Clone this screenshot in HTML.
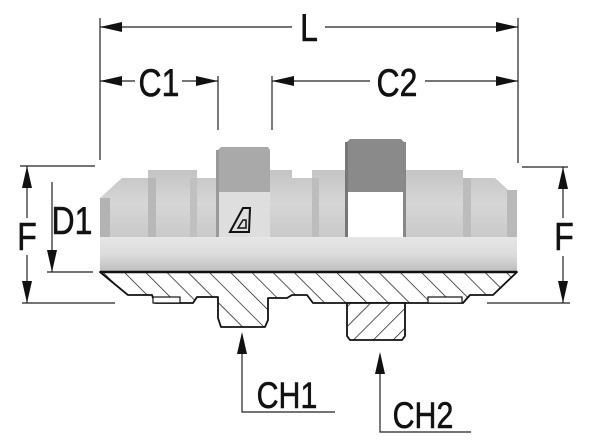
<!DOCTYPE html>
<html><head><meta charset="utf-8"><style>
html,body{margin:0;padding:0;background:#fff;}
svg{display:block;}
text{font-family:"Liberation Sans",sans-serif;fill:#111;stroke:#111;stroke-width:0.6;}
</style></head><body>
<svg width="600" height="445" viewBox="0 0 600 445" xmlns="http://www.w3.org/2000/svg">
<defs>
<linearGradient id="bt" x1="0" y1="0" x2="0" y2="1">
<stop offset="0" stop-color="#c4c4c4"/><stop offset="0.5" stop-color="#d6d6d6"/><stop offset="1" stop-color="#cacaca"/>
</linearGradient>
<linearGradient id="bl" x1="0" y1="0" x2="0" y2="1">
<stop offset="0" stop-color="#e6e6e6"/><stop offset="0.5" stop-color="#dcdcdc"/><stop offset="1" stop-color="#bdbdbd"/>
</linearGradient>
<pattern id="h1" width="15" height="15" patternUnits="userSpaceOnUse" patternTransform="rotate(-45)">
<rect width="15" height="15" fill="#fff"/><line x1="0" y1="0" x2="0" y2="15" stroke="#111" stroke-width="1.4"/>
</pattern>
<pattern id="h2" width="14" height="14" patternUnits="userSpaceOnUse" patternTransform="rotate(45)">
<rect width="14" height="14" fill="#fff"/><line x1="0" y1="0" x2="0" y2="14" stroke="#111" stroke-width="1.4"/>
</pattern>
</defs>

<path d="M218,150 L221,147 L268,147 L270,150 L270,192 L218,192Z" fill="#a9a9a9"/>
<path d="M347,142 L350,139 L401,139 L404,142 L404,192 L347,192Z" fill="#8a8a8a"/>

<path d="M100,198 L122,178 L148,178 L148,170 L197,170 L197,178 L218,178 L218,237 L100,237Z" fill="url(#bt)"/>
<path d="M270,170 L292,170 L292,178 L312,178 L312,170 L347,170 L347,237 L270,237Z" fill="url(#bt)"/>
<path d="M404,170 L463,170 L463,178 L495,178 L517,198 L517,237 L404,237Z" fill="url(#bt)"/>
<rect x="218" y="192" width="52" height="45" fill="#dedede"/>
<rect x="347" y="192" width="57" height="45" fill="#fff"/>
<rect x="100" y="198" width="10" height="39" fill="#b3b3b3"/>
<rect x="148" y="178" width="8" height="59" fill="#b8b8b8"/>
<rect x="190" y="178" width="7" height="59" fill="#c0c0c0"/>
<rect x="312" y="178" width="7" height="59" fill="#bdbdbd"/>
<rect x="463" y="178" width="8" height="59" fill="#bcbcbc"/>
<rect x="507" y="190" width="10" height="47" fill="#b9b9b9"/>
<rect x="216" y="150" width="3" height="87" fill="#999"/>
<rect x="345" y="142" width="3" height="95" fill="#777"/>
<rect x="403" y="142" width="3" height="95" fill="#888"/>
<rect x="100" y="237" width="417" height="35" fill="url(#bl)"/>
<!-- logo -->
<path d="M230,232 L243,208 L250,208 L249,232Z" fill="none" stroke="#111" stroke-width="2"/>
<path d="M238,228 L243,220 L246,220 L246,228Z" fill="none" stroke="#111" stroke-width="1.5"/>

<path d="M100,272 L517,272 L493,295 L470,295 L463,303 L313,303 L307,295 L292,295 L287,298 L268,298 L268,320 L265,327 L221,327 L218,318 L218,297 L197,297 L193,303 L155,303 L152,295 L128,295Z" fill="url(#h1)" stroke="#111" stroke-width="1.8" stroke-linejoin="round"/>
<rect x="153" y="297" width="27" height="6" fill="#fff" stroke="#111" stroke-width="1.2"/>
<rect x="428" y="297" width="34" height="6" fill="#fff" stroke="#111" stroke-width="1.2"/>
<path d="M347,303 L405,303 L405,336 L402,340 L350,340 L347,336Z" fill="url(#h2)" stroke="#111" stroke-width="1.8"/>
<line x1="100" y1="272" x2="517" y2="272" stroke="#111" stroke-width="2.5"/>

<g stroke="#222" stroke-width="1.2" fill="none">
<line x1="100" y1="18" x2="100" y2="160"/>
<line x1="518" y1="18" x2="518" y2="163"/>
<line x1="100" y1="27" x2="292" y2="27"/>
<line x1="325" y1="27" x2="518" y2="27"/>
<line x1="100" y1="81" x2="135" y2="81"/>
<line x1="182" y1="81" x2="218" y2="81"/>
<line x1="218" y1="76" x2="218" y2="130"/>
<line x1="272" y1="76" x2="272" y2="130"/>
<line x1="272" y1="81" x2="370" y2="81"/>
<line x1="425" y1="81" x2="518" y2="81"/>
<line x1="20" y1="166" x2="95" y2="166"/>
<line x1="22" y1="303" x2="115" y2="303"/>
<line x1="27" y1="166" x2="27" y2="218"/>
<line x1="27" y1="255" x2="27" y2="303"/>
<line x1="52" y1="182" x2="52" y2="272"/>
<line x1="47" y1="272" x2="93" y2="272"/>
<line x1="522" y1="167" x2="568" y2="167"/>
<line x1="487" y1="303" x2="570" y2="303"/>
<line x1="563" y1="167" x2="563" y2="218"/>
<line x1="563" y1="256" x2="563" y2="303"/>
<polyline points="242,335 242,412 335,412"/>
<polyline points="380,355 380,432 471,432"/>
</g>
<g fill="#111">
<path d="M100,27 L122,22 L122,32Z"/>
<path d="M518,27 L496,22 L496,32Z"/>
<path d="M100,81 L122,76 L122,86Z"/>
<path d="M218,81 L196,76 L196,86Z"/>
<path d="M272,81 L294,76 L294,86Z"/>
<path d="M518,81 L496,76 L496,86Z"/>
<path d="M27,166 L22,188 L32,188Z"/>
<path d="M27,303 L22,281 L32,281Z"/>
<path d="M52,272 L47,250 L57,250Z"/>
<path d="M563,167 L558,189 L568,189Z"/>
<path d="M563,303 L558,281 L568,281Z"/>
<path d="M242,332 L237,354 L247,354Z"/>
<path d="M380,352 L375,374 L385,374Z"/>
</g>

<g font-size="39">
<text x="309" y="41" text-anchor="middle" transform="translate(309,0) scale(0.82,1) translate(-309,0)">L</text>
<text x="159" y="96" text-anchor="middle" transform="translate(159,0) scale(0.82,1) translate(-159,0)">C1</text>
<text x="397" y="96" text-anchor="middle" transform="translate(397,0) scale(0.82,1) translate(-397,0)">C2</text>
<text x="27" y="250" text-anchor="middle" transform="translate(27,0) scale(0.82,1) translate(-27,0)">F</text>
<text x="72" y="234" text-anchor="middle" transform="translate(72,0) scale(0.82,1) translate(-72,0)">D1</text>
<text x="564" y="250" text-anchor="middle" transform="translate(564,0) scale(0.82,1) translate(-564,0)">F</text>
</g>
<g font-size="37">
<text x="287" y="408" text-anchor="middle" transform="translate(287,0) scale(0.82,1) translate(-287,0)">CH1</text>
<text x="423" y="428" text-anchor="middle" transform="translate(423,0) scale(0.82,1) translate(-423,0)">CH2</text>
</g>
</svg>
</body></html>
